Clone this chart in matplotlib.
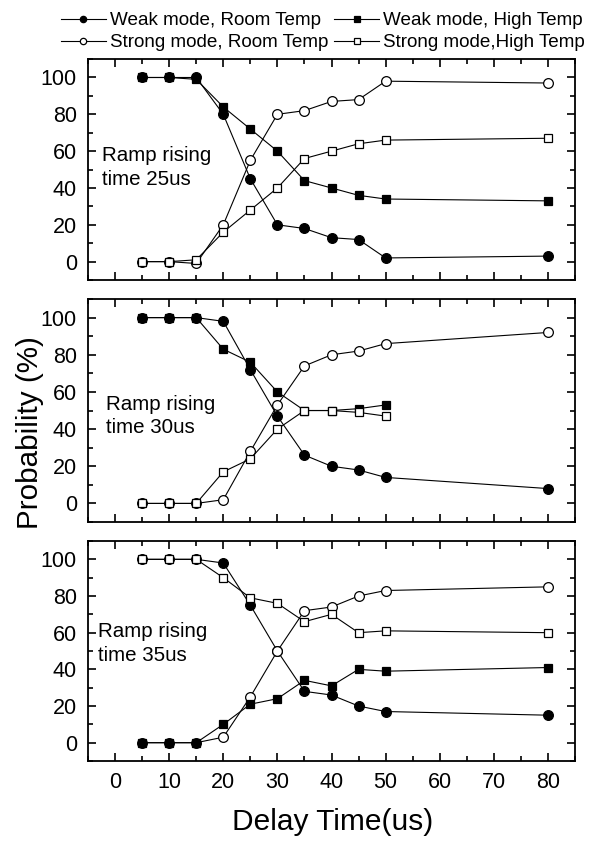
import matplotlib.pyplot as plt
from matplotlib.ticker import MultipleLocator
import numpy as np

plt.rcParams['font.family'] = ['Liberation Sans', 'DejaVu Sans']

delay = [5, 10, 15, 20, 25, 30, 35, 40, 45, 50, 80]
delay_short = [5, 10, 15, 20, 25, 30, 35, 40, 45, 50]

# ramp rising time 25us
weak_room_25 = [100, 100, 100, 80, 45, 20, 18, 13, 12, 2, 3]
weak_high_25 = [100, 100, 99, 84, 72, 60, 44, 40, 36, 34, 33]
strong_room_25 = [0, 0, -1, 20, 55, 80, 82, 87, 88, 98, 97]
strong_high_25 = [0, 0, 1, 16, 28, 40, 56, 60, 64, 66, 67]

# ramp rising time 30us
weak_room_30 = [100, 100, 100, 98, 72, 47, 26, 20, 18, 14, 8]
weak_high_30 = [100, 100, 100, 83, 76, 60, 50, 50, 51, 53]
strong_room_30 = [0, 0, 0, 2, 28, 53, 74, 80, 82, 86, 92]
strong_high_30 = [0, 0, 0, 17, 24, 40, 50, 50, 49, 47]

# ramp rising time 35us
weak_room_35 = [100, 100, 100, 98, 75, 50, 28, 26, 20, 17, 15]
weak_high_35 = [0, 0, 0, 10, 21, 24, 34, 31, 40, 39, 41]
strong_room_35 = [0, 0, 0, 3, 25, 50, 72, 74, 80, 83, 85]
strong_high_35 = [100, 100, 100, 90, 79, 76, 66, 70, 60, 61, 60]

panels = [
    ('Ramp rising\ntime 25us', (weak_room_25, delay), (strong_room_25, delay),
     (weak_high_25, delay), (strong_high_25, delay), (-2.4, 51)),
    ('Ramp rising\ntime 30us', (weak_room_30, delay), (strong_room_30, delay),
     (weak_high_30, delay_short), (strong_high_30, delay_short), (-1.7, 47)),
    ('Ramp rising\ntime 35us', (weak_room_35, delay), (strong_room_35, delay),
     (weak_high_35, delay), (strong_high_35, delay), (-3.1, 54)),
]

fig = plt.figure(figsize=(6.04, 8.44), dpi=100)
boxes = [[0.1457, 0.6682, 0.8063, 0.2618],
         [0.1457, 0.3815, 0.8063, 0.2642],
         [0.1457, 0.0983, 0.8063, 0.2607]]

lw = 0.8
styles = [dict(marker='o', ms=7, mfc='black', mec='black'),
          dict(marker='o', ms=7, mfc='white', mec='black'),
          dict(marker='s', ms=6.3, mfc='black', mec='black'),
          dict(marker='s', ms=6.3, mfc='white', mec='black')]
labels = ['Weak mode, Room Temp', 'Strong mode, Room Temp',
          'Weak mode, High Temp', 'Strong mode,High Temp']

handles = []
for i, (txt, wr, sr, wh, sh, tpos) in enumerate(panels):
    ax = fig.add_axes(boxes[i])
    for j, (vals, xs) in enumerate([wr, sr, wh, sh]):
        ln, = ax.plot(xs, vals, color='black', lw=lw, mew=0.9, **styles[j],
                      label=labels[j])
        if i == 0:
            handles.append(ln)
    ax.set_xlim(-5, 85)
    ax.set_ylim(-10, 110)
    ax.xaxis.set_major_locator(MultipleLocator(10))
    ax.xaxis.set_minor_locator(MultipleLocator(5))
    ax.yaxis.set_major_locator(MultipleLocator(20))
    ax.yaxis.set_minor_locator(MultipleLocator(10))
    ax.tick_params(which='both', direction='in', top=True, right=True,
                   width=1.2, labelsize=15.5)
    ax.tick_params(which='major', length=6)
    ax.tick_params(which='minor', length=3.5)
    ax.tick_params(axis='y', which='major', pad=8)
    ax.tick_params(axis='x', which='major', pad=8)
    for s in ax.spines.values():
        s.set_linewidth(1.3)
    if i < 2:
        ax.tick_params(labelbottom=False)
    ax.text(tpos[0], tpos[1], txt, fontsize=14.8, va='center', ha='left',
            linespacing=1.3)

fig.text(0.05, 0.488, 'Probability (%)', rotation=90, fontsize=21.3,
         ha='center', va='center')
fig.text(0.55, 0.026, 'Delay Time(us)', fontsize=21.5, ha='center',
         va='center')

fig.legend(handles=handles, labels=labels, ncol=2, loc='upper right',
           bbox_to_anchor=(0.987, 0.999), frameon=False, fontsize=13.6,
           markerscale=0.65, handlelength=2.4, handletextpad=0.2,
           columnspacing=0.3, labelspacing=0.25, borderpad=0.1)

fig.savefig('out.png', dpi=100)
